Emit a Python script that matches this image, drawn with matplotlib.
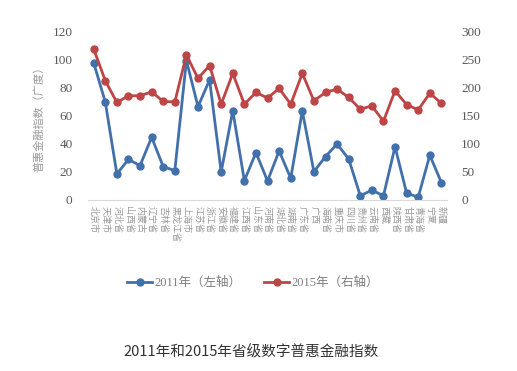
import matplotlib
matplotlib.use("Agg")
import matplotlib.pyplot as plt
import numpy as np

plt.rcParams["font.family"] = ["Noto Sans CJK SC", "DejaVu Sans"]

provinces = ["北京市", "天津市", "河北省", "山西省", "内蒙古", "辽宁省", "吉林省", "黑龙江省",
             "上海市", "江苏省", "浙江省", "安徽省", "福建省", "江西省", "山东省", "河南省",
             "湖北省", "湖南省", "广东省", "广西", "海南省", "重庆市", "四川省", "贵州省",
             "云南省", "西藏", "陕西省", "甘肃省", "青海省", "宁夏", "新疆"]
idx_2011 = [98, 70, 18.6, 29, 24.5, 44.8, 23.8, 21, 99.5, 66.7, 85.7, 20, 63.8, 13.8, 33.8, 13.6,
            35, 15.5, 63.6, 20.2, 31, 40, 29.3, 3, 7, 3, 38, 4.8, 2, 32, 12.4]
idx_2015 = [269.6, 213, 174, 186, 186, 193, 176, 175, 259, 217, 240, 171, 226, 171, 192, 182,
            199, 171, 226, 177, 192, 198, 183, 162, 168, 140.5, 195, 170, 161, 190.5, 172.6]

BLUE, RED = "#4170aa", "#bd4545"

fig = plt.figure(figsize=(5.17, 3.71), dpi=100)
ax = fig.add_axes([0.170, 0.461, 0.695, 0.453])
ax2 = ax.twinx()
x = np.arange(len(provinces))

l1, = ax.plot(x, idx_2011, color=BLUE, lw=2, marker="o", ms=5, label="2011年（左轴）")
l2, = ax2.plot(x, idx_2015, color=RED, lw=2, marker="o", ms=5, label="2015年（右轴）")

ax.set_xlim(-0.5, len(provinces) - 0.5)
ax.set_ylim(0, 120)
ax2.set_ylim(0, 300)
ax.set_yticks(range(0, 121, 20))
ax2.set_yticks(range(0, 301, 50))
for a in (ax, ax2):
    for s in a.spines.values():
        s.set_visible(False)
    a.tick_params(axis="y", length=0, colors="#595959", labelsize=9.5,
                  labelfontfamily="Liberation Serif")
ax.spines["bottom"].set_visible(True)
ax.spines["bottom"].set_color("#d9d9d9")
ax.tick_params(axis="y", pad=11)
ax2.tick_params(axis="y", pad=10)

ax.set_xticks(x)
ax.set_xticklabels(provinces, rotation=270, fontsize=6.5, color="#9a9a9a", va="top")
ax.tick_params(axis="x", length=0, pad=4)
ax.set_ylabel("普惠金融指数（广度）", fontsize=8, color="#9a9a9a", labelpad=6)

fig.legend(handles=[l1, l2], loc="center", bbox_to_anchor=(0.49, 0.237), ncol=2, frameon=False,
           prop={"family": ["Liberation Serif", "Noto Sans CJK SC"], "size": 9},
           labelcolor="#7f7f7f", handlelength=2.0, handletextpad=0.2, columnspacing=1.8)

fig.text(0.485, 0.05, "2011年和2015年省级数字普惠金融指数", ha="center", va="center",
         fontsize=10.5, color="#333333")

fig.savefig("out.png", dpi=100)
